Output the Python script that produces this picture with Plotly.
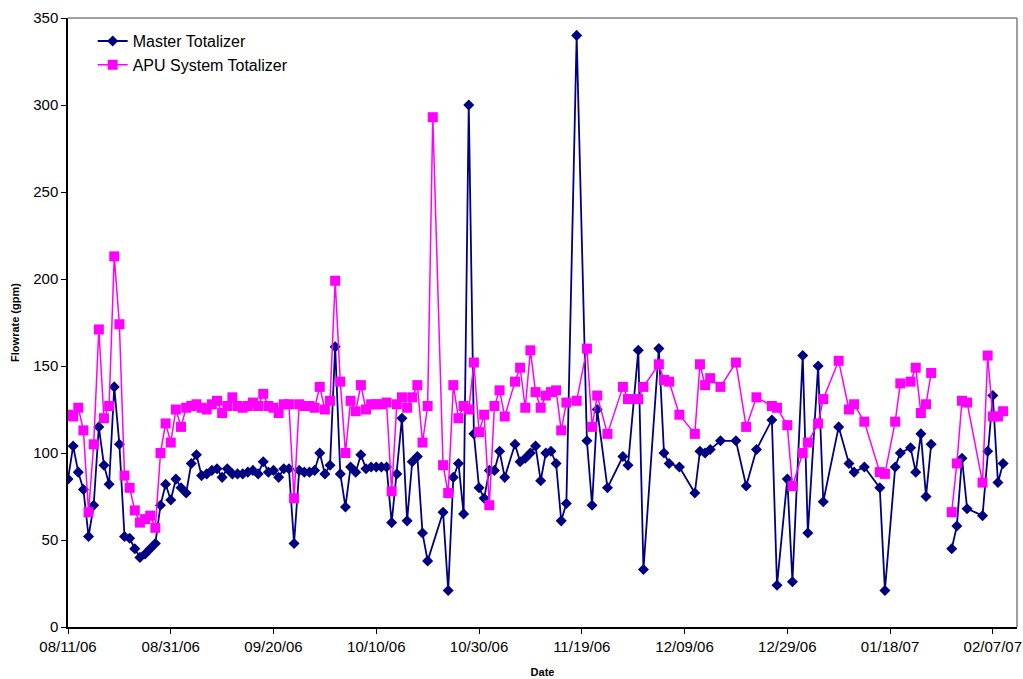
import pandas as pd
import plotly.graph_objects as go

START = "2006-08-11"

# Master Totalizer: day offset from START, flowrate (gpm)
master_days = [0, 1, 2, 3, 4, 5, 6, 7, 8, 9, 10, 11, 12, 13, 14, 15, 16, 17, 18, 19,
               20, 21, 22, 23, 24, 25, 26, 27, 28, 29, 30, 31, 32, 33, 34, 35, 36, 37, 38, 39,
               40, 41, 42, 43, 44, 45, 46, 47, 48, 49, 50, 51, 52, 53, 54, 55, 56, 57, 58, 59,
               60, 61, 62, 63, 64, 65, 66, 67, 68, 69, 70, 73, 74, 75, 76, 77, 78, 79, 80, 81,
               82, 83, 84, 85, 87, 88, 89, 90, 91, 92, 93, 94, 95, 96, 97, 99, 101, 102, 103, 105,
               108, 109, 111, 112, 115, 116, 117, 119, 122, 123, 124, 125, 127, 130, 132, 134, 137, 138, 140, 141,
               143, 144, 146, 147, 150, 152, 153, 155, 158, 159, 161, 162, 164, 165, 166, 167, 168, 170,
               172, 173, 174, 175, 178, 179, 180, 181, 182]
master_flow = [85, 104, 89, 79, 52, 70, 115, 93, 82, 138, 105, 52, 51, 45, 40, 42, 45, 48, 70, 82,
               73, 85, 80, 77, 94, 99, 87, 88, 90, 91, 86, 91, 88, 88, 88, 89, 90, 88, 95, 89,
               90, 86, 91, 91, 48, 90, 89, 89, 90, 100, 88, 93, 161, 88, 69, 92, 89, 99, 91, 92,
               92, 92, 92, 60, 88, 120, 61, 95, 98, 54, 38, 66, 21, 86, 94, 65, 300, 111, 80, 74,
               90, 90, 101, 86, 105, 95, 97, 100, 104, 84, 100, 101, 94, 61, 71, 340, 107, 70, 125, 80,
               98, 93, 159, 33, 160, 100, 94, 92, 77, 101, 100, 102, 107, 107, 81, 102, 119, 24, 85, 26,
               156, 54, 150, 72, 115, 94, 89, 92, 80, 21, 92, 100, 103, 89, 111, 75, 105, None,
               45, 58, 97, 68, 64, 101, 133, 83, 94]

# APU System Totalizer: day offset from START, flowrate (gpm)
apu_days = [0, 1, 2, 3, 4, 5, 6, 7, 8, 9, 10, 11, 12, 13, 14, 15, 16, 17, 18, 19,
            20, 21, 22, 23, 24, 25, 26, 27, 28, 29, 30, 31, 32, 33, 34, 35, 36, 37, 38, 39,
            40, 41, 42, 43, 44, 45, 46, 47, 48, 49, 50, 51, 52, 53, 54, 55, 56, 57, 58, 59,
            60, 61, 62, 63, 64, 65, 66, 67, 68, 69, 70, 71, 73, 74, 75, 76, 77, 78, 79, 80,
            81, 82, 83, 84, 85, 87, 88, 89, 90, 91, 92, 93, 94, 95, 96, 97, 99, 101, 102, 103,
            105, 108, 109, 111, 112, 115, 116, 117, 119, 122, 123, 124, 125, 127, 130, 132, 134, 137, 138, 140,
            141, 143, 144, 146, 147, 150, 152, 153, 155, 158, 159, 161, 162, 164, 165, 166, 167, 168, 170,
            172, 173, 174, 175, 178, 179, 180, 181, 182]
apu_flow = [122, 121, 126, 113, 66, 105, 171, 120, 127, 213, 174, 87, 80, 67, 60, 62, 64, 57, 100, 117,
            106, 125, 115, 126, 127, 128, 126, 125, 128, 130, 123, 127, 132, 127, 126, 127, 129, 127, 134, 127,
            126, 123, 128, 128, 74, 128, 127, 127, 126, 138, 125, 130, 199, 141, 100, 130, 124, 139, 125, 128,
            128, 128, 129, 78, 128, 132, 126, 132, 139, 106, 127, 293, 93, 77, 139, 120, 127, 125, 152, 112,
            122, 70, 127, 136, 121, 141, 149, 126, 159, 135, 126, 133, 135, 136, 113, 129, 130, 160, 115, 133,
            111, 138, 131, 131, 138, 151, 142, 141, 122, 111, 151, 139, 143, 138, 152, 115, 132, 127, 126, 116,
            81, 100, 106, 117, 131, 153, 125, 128, 118, 89, 88, 118, 140, 141, 149, 123, 128, 146, None,
            66, 94, 130, 129, 83, 156, 121, 121, 124]

start = pd.Timestamp(START)
master_dates = [start + pd.Timedelta(days=d) for d in master_days]
apu_dates = [start + pd.Timedelta(days=d) for d in apu_days]

FONT = "Liberation Sans, Arial, sans-serif"

fig = go.Figure()
fig.add_trace(go.Scatter(
    x=master_dates, y=master_flow, name="Master Totalizer", mode="lines+markers",
    line=dict(color="#000080", width=1.8),
    marker=dict(symbol="diamond", size=8.5, color="#000080"),
))
fig.add_trace(go.Scatter(
    x=apu_dates, y=apu_flow, name="APU System Totalizer", mode="lines+markers",
    line=dict(color="#FF00FF", width=1.5),
    marker=dict(symbol="square", size=10, color="#FF00FF"),
))

fig.update_layout(
    width=1023, height=679,
    margin=dict(l=68, r=6, t=18, b=52, autoexpand=False),
    paper_bgcolor="white", plot_bgcolor="white",
    font=dict(family=FONT, size=15, color="black"),
    showlegend=True,
    legend=dict(x=0.026, y=0.99, xanchor="left", yanchor="top", tracegroupgap=0,
                bgcolor="rgba(0,0,0,0)", font=dict(size=16, family=FONT)),
    shapes=[
        dict(type="line", xref="paper", yref="paper", x0=0, x1=1, y0=1, y1=1,
             line=dict(color="#808080", width=1.5)),
        dict(type="line", xref="paper", yref="paper", x0=1, x1=1, y0=0, y1=1,
             line=dict(color="#808080", width=1.5)),
    ],
)
fig.update_xaxes(
    type="date", range=["2006-08-11", "2007-02-11 17:00"], automargin=False,
    tick0="2006-08-11", dtick=20 * 86400000, tickformat="%m/%d/%y",
    ticks="outside", ticklen=5, tickcolor="black", showline=True, linecolor="black", linewidth=1.5,
    showgrid=False, zeroline=False,
    title=dict(text="<b>Date</b>", font=dict(size=11, family=FONT), standoff=15),
)
fig.update_yaxes(
    range=[0, 350], dtick=50, ticks="outside", ticklen=5, tickcolor="black", automargin=False,
    showline=True, linecolor="black", linewidth=1.5, showgrid=False, zeroline=False,
    title=dict(text="<b>Flowrate (gpm)</b>", font=dict(size=11, family=FONT), standoff=11),
)

fig.write_html("out.html", config={"displayModeBar": False},
               post_script="document.body.style.margin='0';document.body.style.overflow='hidden';")
